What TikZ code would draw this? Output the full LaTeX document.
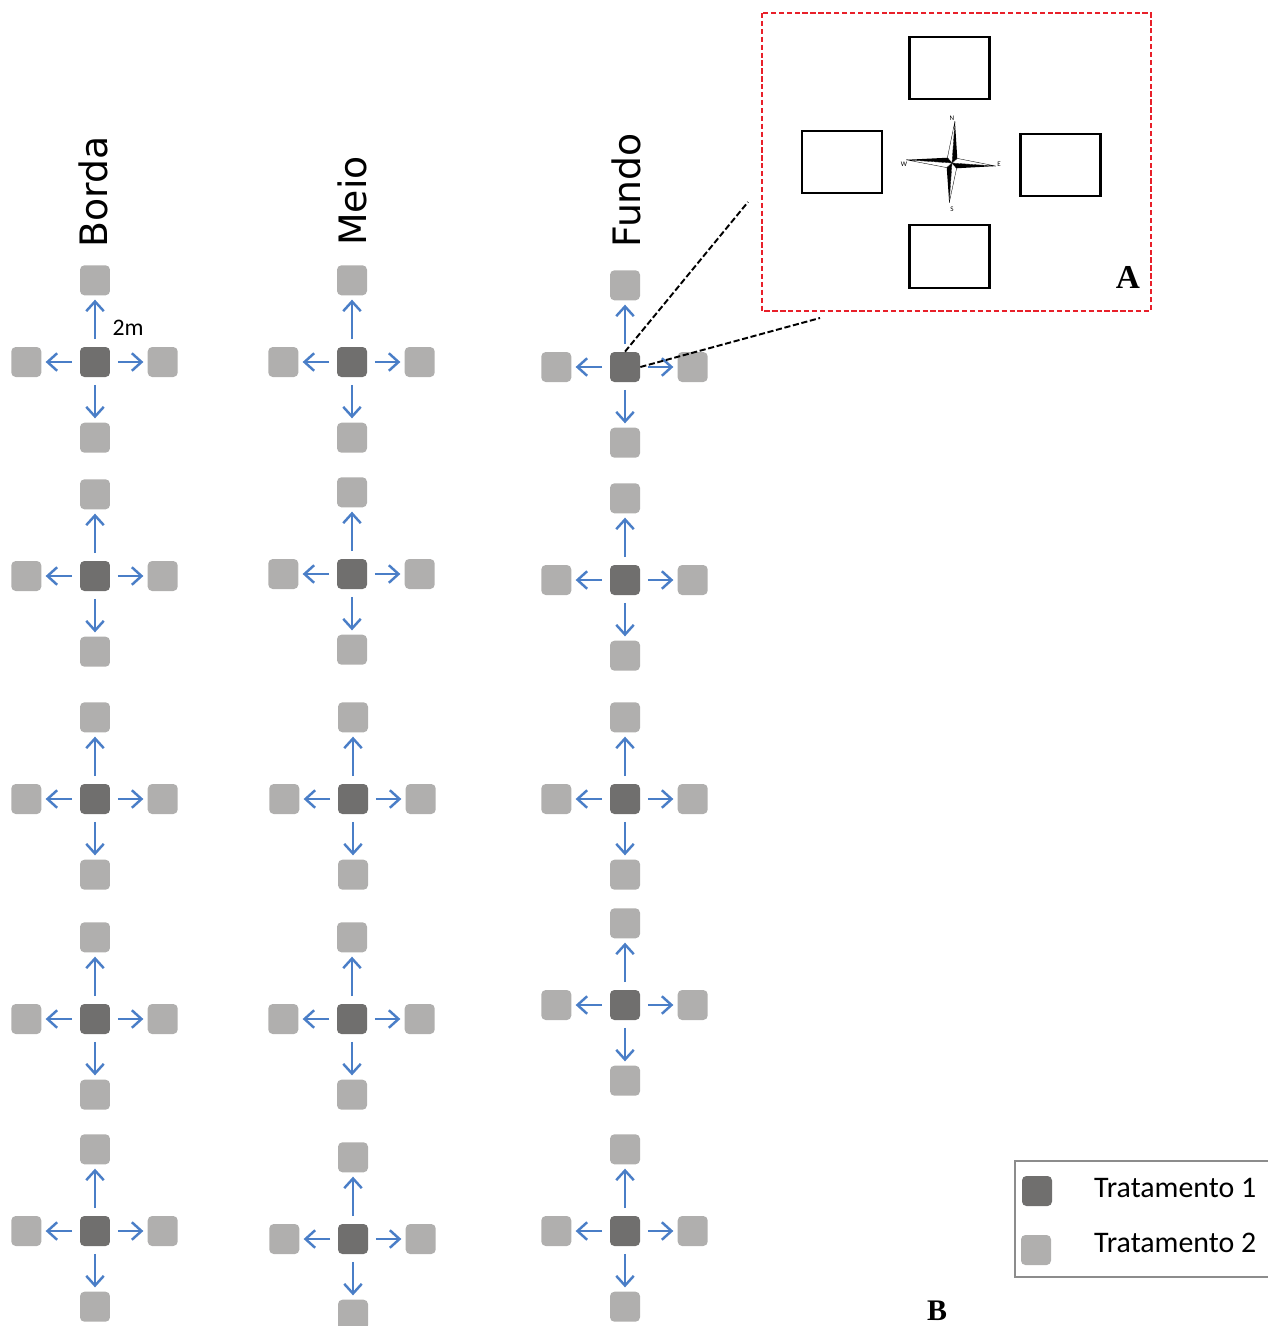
\documentclass[tikz,border=0pt]{standalone}
\usepackage{fontspec}
\setmainfont{Carlito}
\newfontfamily\titlefont{DejaVu Sans}
\newfontfamily\letrafont{Liberation Serif}
\usetikzlibrary{arrows.meta,positioning}
\definecolor{trtum}{HTML}{706F6E}
\definecolor{trtdois}{HTML}{B0AFAE}
\definecolor{azul}{HTML}{4A7EC7}
\definecolor{vermelho}{HTML}{E8202A}
\definecolor{cinza}{HTML}{8C8C8C}
\tikzset{t1/.style={fill=trtum, rounded corners=2.5pt, minimum size=0.6cm, inner sep=0pt}}
\tikzset{t2/.style={fill=trtdois, rounded corners=2.5pt, minimum size=0.6cm, inner sep=0pt}}
\tikzset{seta/.style={->, draw=azul, line width=1.4pt, shorten <=0.15cm, shorten >=0.08cm}}
\tikzset{titulo/.style={rotate=90, anchor=west, inner sep=0pt, font=\titlefont\fontsize{21.5}{24}\selectfont}}
\tikzset{parcela/.style={draw=black, line width=1.4pt, minimum width=1.6cm, minimum height=1.25cm, inner sep=0pt}}

\begin{document}
\begin{tikzpicture}[x=0.02cm, y=-0.02cm, >={Straight Barb[length=5.5pt,width=10pt]}]
\useasboundingbox (0,0) rectangle (1268,1326);

% titulos
\node[titulo] (borda) at (93,248) {Borda};
\node[titulo] (meio) at (352,246) {Meio};
\node[titulo] (fundo) at (626,248) {Fundo};

% parcelas
\foreach \px/\py/\k in {95/362/1, 95/576/2, 95/799/3, 95/1019/4, 95/1231/5,
                        352/362/6, 352/574/7, 353/799/8, 352/1019/9, 353/1239/10,
                        625/367/11, 625/580/12, 625/799/13, 625/1005/14, 625/1231/15}{
  \node[t1] (c\k) at (\px,\py) {};
  \node[t2, above=1.02cm of c\k] (n\k) {};
  \node[t2, below=0.9cm of c\k] (s\k) {};
  \node[t2, left=0.76cm of c\k] (w\k) {};
  \node[t2, right=0.74cm of c\k] (e\k) {};
  \draw[seta] (c\k) -- (n\k);
  \draw[seta] (c\k) -- (s\k);
  \draw[seta] (c\k) -- (w\k);
  \draw[seta] (c\k) -- (e\k);
}
\node[font=\fontsize{13.5}{16}\selectfont] (dist) at (128,328) {2m};

% detalhe A
\draw[vermelho, line width=1.2pt, dash pattern=on 3pt off 1.5pt] (762,13) rectangle (1151,311);
\node[parcela] (pn) at (949.5,68) {};
\node[parcela] (pw) at (842,162) {};
\node[parcela] (pe) at (1060.5,165) {};
\node[parcela] (ps) at (949.5,256.5) {};
\coordinate (rosa) at (952,163);
\begin{scope}[shift={(rosa)}, rotate=-4]
  \foreach \ang/\len in {270/42, 90/40, 180/46, 0/44}{
    \fill[black] (0,0) -- (\ang:\len) -- (\ang+45:7) -- cycle;
    \draw[black, line width=0.2pt, fill=white] (0,0) -- (\ang:\len) -- (\ang-45:7) -- cycle;
  }
\end{scope}
\node[font=\fontsize{4}{5}\selectfont, inner sep=0pt] (rn) at (952,118) {N};
\node[font=\fontsize{4}{5}\selectfont, inner sep=0pt] (rs) at (952,209) {S};
\node[font=\fontsize{4}{5}\selectfont, inner sep=0pt] (rw) at (904,164) {W};
\node[font=\fontsize{4}{5}\selectfont, inner sep=0pt] (re) at (999,164) {E};
\node[font=\letrafont\bfseries\fontsize{19}{22}\selectfont] (la) at (1128,277) {A};

% ligacao com a parcela
\coordinate (lupa1) at (748,202);
\coordinate (lupa2) at (820,318);
\draw[black, line width=1.1pt, dash pattern=on 3.5pt off 1.5pt] (c11.north) -- (lupa1);
\draw[black, line width=1.1pt, dash pattern=on 3.5pt off 1.5pt] (c11.east) -- (lupa2);

% legenda
\draw[cinza, line width=1.1pt] (1015,1161) rectangle (1290,1277);
\node[t1] (leg1) at (1037,1191) {};
\node[t2] (leg2) at (1036,1250) {};
\node[anchor=west, font=\fontsize{17}{20}\selectfont] (txt1) at (1088,1188) {Tratamento 1};
\node[anchor=west, font=\fontsize{17}{20}\selectfont] (txt2) at (1088,1243) {Tratamento 2};
\node[font=\letrafont\bfseries\fontsize{17}{20}\selectfont, inner sep=0pt] (lb) at (937,1311) {B};
\end{tikzpicture}
\end{document}
